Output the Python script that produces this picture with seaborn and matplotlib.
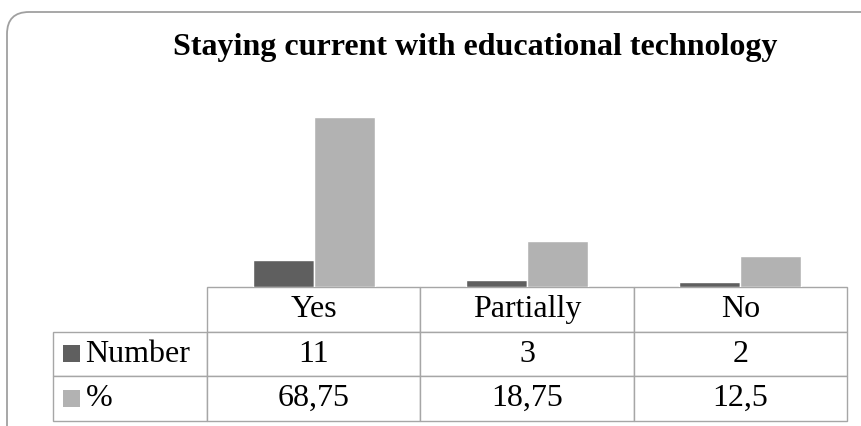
import pandas as pd
import matplotlib.pyplot as plt
import seaborn as sns
from matplotlib.patches import FancyBboxPatch, Rectangle
from matplotlib.transforms import IdentityTransform

# Chart data
categories = ["Yes", "Partially", "No"]
number_vals = [11, 3, 2]
percent_vals = [68.75, 18.75, 12.5]
series_names = ["Number", "%"]
number_labels = ["11", "3", "2"]
percent_labels = ["68,75", "18,75", "12,5"]
colors = ["#5f5f5f", "#b2b2b2"]

df = pd.DataFrame({
    "Category": categories * 2,
    "Series": [series_names[0]] * 3 + [series_names[1]] * 3,
    "Value": number_vals + percent_vals,
})

sns.set_style("white")
plt.rcParams["font.family"] = ["Liberation Serif", "DejaVu Serif"]
plt.rcParams["text.color"] = "black"

fig = plt.figure(figsize=(8.61, 4.26), dpi=100)
ax = fig.add_axes([207 / 861, 1 - 287 / 426, 640 / 861, 198 / 426])

# Rounded chart frame
frame = FancyBboxPatch((7, -40), 920, 454, boxstyle="round,pad=0,rounding_size=22",
                       transform=IdentityTransform(), facecolor="none",
                       edgecolor="#a0a0a0", linewidth=1.3, zorder=0)
fig.patches.append(frame)

sns.barplot(data=df, x="Category", y="Value", hue="Series", order=categories,
            hue_order=series_names, palette=colors, width=0.573, gap=0,
            saturation=1, legend=False, ax=ax)

ax.set_xlim(-0.5, 2.5)
ax.set_ylim(0, 80)
ax.set_xticks([])
ax.set_yticks([])
ax.set_xlabel("")
ax.set_ylabel("")
for s in ax.spines.values():
    s.set_visible(False)

# Data table under the bars (first column holds the series names)
cell_text = [[""] + categories,
             [series_names[0]] + number_labels,
             [series_names[1]] + percent_labels]
tbl = ax.table(cellText=cell_text, cellLoc="center",
               colWidths=[154 / 794] + [213 / 794] * 3,
               bbox=[-154 / 640, -134 / 198, 794 / 640, 134 / 198])
tbl.auto_set_font_size(False)
for (r, c), cell in tbl.get_celld().items():
    cell.set_edgecolor("#a6a6a6")
    cell.set_linewidth(1.0)
    cell.get_text().set_fontsize(23)
    cell.get_text().set_color("black")
    if c == 0:
        cell.get_text().set_ha("left")
        cell._loc = "left"
        cell.PAD = 0.21
    if r == 0 and c == 0:
        cell.visible_edges = ""

# Legend keys inside the series name cells
for i, col in enumerate(colors):
    yc = 426 - (354 + i * 45)
    fig.patches.append(Rectangle((63, yc - 8), 17, 17, transform=IdentityTransform(),
                                 facecolor=col, edgecolor="none"))

fig.text(475 / 861, 1 - 47 / 426, "Staying current with educational technology",
         ha="center", va="center", fontsize=23, fontweight="bold", color="black")

fig.savefig("out.png", dpi=100)
